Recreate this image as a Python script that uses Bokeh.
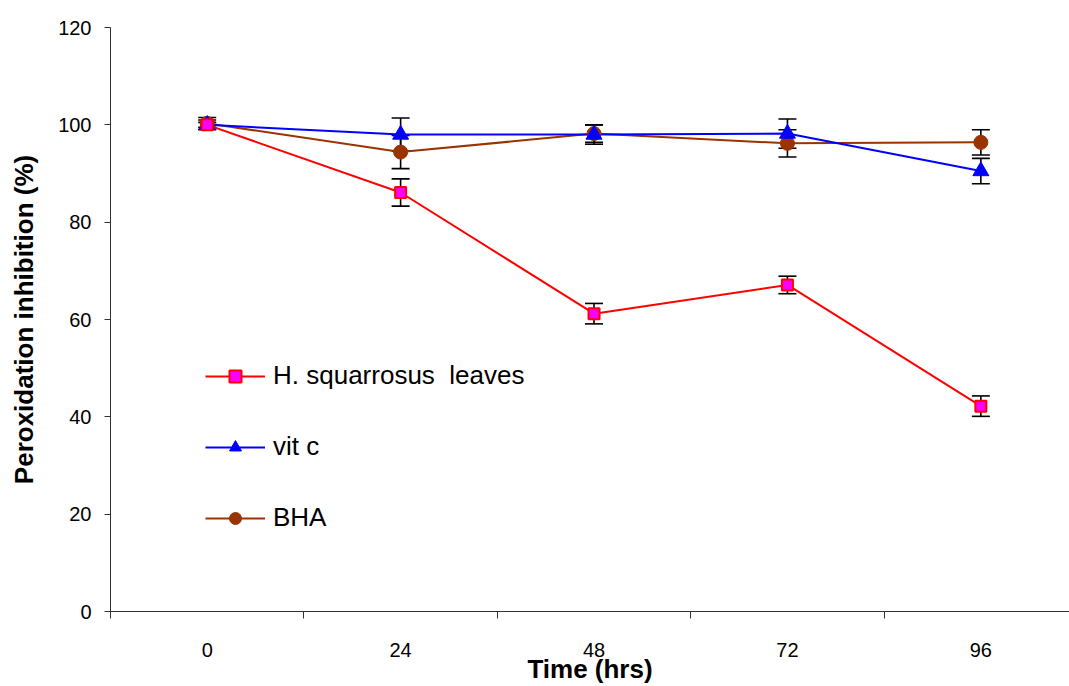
from bokeh.plotting import figure
from bokeh.models import ColumnDataSource, Whisker, TeeHead, FixedTicker, Legend, LegendItem, Range1d
from bokeh.embed import file_html
from bokeh.resources import INLINE

# ---- data ----
time_hrs = [0, 24, 48, 72, 96]
boundary_ticks = [-12, 12, 36, 60, 84]
y_ticks = [0, 20, 40, 60, 80, 100, 120]

h_squarrosus = [100.0, 86.1, 61.2, 67.1, 42.2]
h_squarrosus_err = [1.0, 2.8, 2.1, 1.8, 2.1]
vit_c = [100.0, 98.0, 98.0, 98.2, 90.5]
vit_c_err = [0.5, 3.4, 2.0, 3.0, 2.6]
bha = [100.3, 94.4, 98.2, 96.2, 96.4]
bha_err = [1.2, 3.4, 1.8, 2.8, 2.6]

labels = ["H. squarrosus  leaves", "vit c", "BHA"]

FONT = "Liberation Sans"

p = figure(width=1069, height=686, output_backend="svg", toolbar_location=None,
           x_range=Range1d(-12, 107), y_range=Range1d(0, 120),
           min_border_left=110, min_border_right=0, min_border_top=27, min_border_bottom=75)
p.outline_line_color = None
p.xgrid.grid_line_color = None
p.ygrid.grid_line_color = None
p.background_fill_color = "white"


def src(vals, errs):
    return ColumnDataSource(dict(
        x=time_hrs, y=vals,
        upper=[v + e for v, e in zip(vals, errs)],
        lower=[v - e for v, e in zip(vals, errs)],
    ))


s_h = src(h_squarrosus, h_squarrosus_err)
s_v = src(vit_c, vit_c_err)
s_b = src(bha, bha_err)

for s in (s_h, s_v, s_b):
    w = Whisker(base="x", upper="upper", lower="lower", source=s,
                line_color="black", line_width=1.6,
                upper_head=TeeHead(size=18, line_color="black", line_width=1.6),
                lower_head=TeeHead(size=18, line_color="black", line_width=1.6))
    p.add_layout(w)

l_b = p.line("x", "y", source=s_b, line_color="#993300", line_width=2)
l_v = p.line("x", "y", source=s_v, line_color="#0000FF", line_width=2)
l_h = p.line("x", "y", source=s_h, line_color="#FF0000", line_width=2)

m_b = p.scatter("x", "y", source=s_b, marker="circle", size=14,
                fill_color="#993300", line_color="#993300")
m_v = p.scatter("x", "y", source=s_v, marker="triangle", size=16,
                fill_color="#0000FF", line_color="#0000FF")
m_h = p.scatter("x", "y", source=s_h, marker="square", size=11,
                fill_color="#FF00FF", line_color="#FF0000", line_width=2)

legend = Legend(items=[
    LegendItem(label=labels[0], renderers=[l_h, m_h]),
    LegendItem(label=labels[1], renderers=[l_v, m_v]),
    LegendItem(label=labels[2], renderers=[l_b, m_b]),
], location=(95, 78))
legend.background_fill_alpha = 0
legend.border_line_color = None
legend.padding = 0
legend.margin = 0
legend.glyph_width = 60
legend.glyph_height = 30
legend.label_height = 30
legend.spacing = 40
legend.label_standoff = 8
legend.label_text_font = FONT
legend.label_text_font_size = "26px"
legend.label_text_color = "black"
p.add_layout(legend)

# x axis
xa = p.xaxis[0]
xa.ticker = FixedTicker(ticks=time_hrs, minor_ticks=boundary_ticks)
xa.major_tick_line_color = None
xa.major_tick_out = 0
xa.major_tick_in = 0
xa.minor_tick_out = 7
xa.minor_tick_in = 0
xa.minor_tick_line_color = "#333333"
xa.axis_line_color = "#333333"
xa.major_label_standoff = 24
xa.major_label_text_font = FONT
xa.major_label_text_font_size = "20px"
xa.major_label_text_color = "black"
xa.axis_label = "Time (hrs)"
xa.axis_label_text_font = FONT
xa.axis_label_text_font_size = "26px"
xa.axis_label_text_font_style = "bold"
xa.axis_label_text_color = "black"
xa.axis_label_standoff = -6

# y axis
ya = p.yaxis[0]
ya.ticker = FixedTicker(ticks=y_ticks)
ya.major_tick_out = 6
ya.major_tick_in = 0
ya.minor_tick_line_color = None
ya.major_tick_line_color = "#333333"
ya.axis_line_color = "#333333"
ya.major_label_standoff = 13
ya.major_label_text_font = FONT
ya.major_label_text_font_size = "20px"
ya.major_label_text_color = "black"
ya.axis_label = "Peroxidation inhibition (%)"
ya.axis_label_text_font = FONT
ya.axis_label_text_font_size = "26px"
ya.axis_label_text_font_style = "bold"
ya.axis_label_text_color = "black"
ya.axis_label_standoff = 16

open("out.html", "w").write(file_html(p, INLINE))
